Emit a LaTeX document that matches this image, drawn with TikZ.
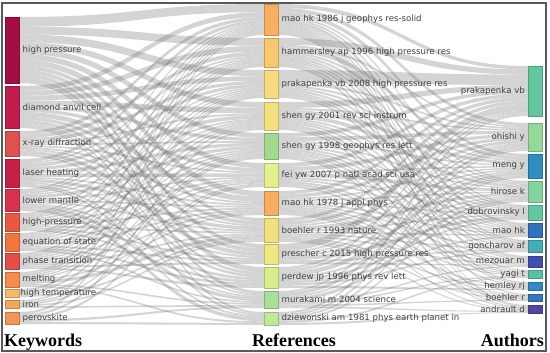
\documentclass[tikz,border=0pt]{standalone}
\usepackage{fontspec}
\setmainfont{Liberation Serif}
\newfontfamily\lblfont{DejaVu Sans}
\usetikzlibrary{positioning,calc,backgrounds}

% keyword colours
\definecolor{kwA}{HTML}{A50D45}
\definecolor{kwB}{HTML}{C01C4C}
\definecolor{kwC}{HTML}{E0504C}
\definecolor{kwD}{HTML}{C62048}
\definecolor{kwE}{HTML}{D93050}
\definecolor{kwF}{HTML}{EA5840}
\definecolor{kwG}{HTML}{F2763E}
\definecolor{kwH}{HTML}{E34E46}
\definecolor{kwI}{HTML}{F48A4C}
\definecolor{kwJ}{HTML}{F8B968}
\definecolor{kwK}{HTML}{F7A657}
\definecolor{kwL}{HTML}{F59553}
% reference colours
\definecolor{rfA}{HTML}{F8B060}
\definecolor{rfB}{HTML}{F9C86E}
\definecolor{rfC}{HTML}{F9DA7E}
\definecolor{rfD}{HTML}{F6E07E}
\definecolor{rfE}{HTML}{A4D88E}
\definecolor{rfF}{HTML}{E2F08E}
\definecolor{rfG}{HTML}{F8AE5E}
\definecolor{rfH}{HTML}{F2E07E}
\definecolor{rfI}{HTML}{F2E67E}
\definecolor{rfJ}{HTML}{D8EE8E}
\definecolor{rfK}{HTML}{A8E09A}
\definecolor{rfL}{HTML}{C2E895}
% author colours
\definecolor{auA}{HTML}{62C6A0}
\definecolor{auB}{HTML}{94D89A}
\definecolor{auC}{HTML}{2F8EC0}
\definecolor{auD}{HTML}{84D4A0}
\definecolor{auE}{HTML}{62C8A0}
\definecolor{auF}{HTML}{3172BE}
\definecolor{auG}{HTML}{42AEB6}
\definecolor{auH}{HTML}{4150AE}
\definecolor{auI}{HTML}{56C2A4}
\definecolor{auJ}{HTML}{3488C6}
\definecolor{auK}{HTML}{3574C0}
\definecolor{auL}{HTML}{5146A2}

\tikzset{
  tsbar/.style={fill=#1, draw=#1!80!black, line width=0.3pt, minimum width=14.5pt,
    inner sep=0pt, outer sep=0pt, anchor=north west},
  tslbl/.style={font=\lblfont\fontsize{8.6}{9}\selectfont, text=black!75, inner sep=0pt},
  tshead/.style={font=\bfseries\fontsize{18}{20}\selectfont, inner sep=0pt},
  tsband/.style={fill=black!60, fill opacity=0.28},
  tsframe/.style={draw=black!65, line width=1.2pt}
}

\newcommand\setg[2]{\expandafter\xdef\csname#1\endcsname{#2}}
\newcommand\val[1]{\csname#1\endcsname}

% bands between two columns: src prefix, dst prefix, src heights, dst heights, weights, half gap
\newcommand\tsflows[6]{%
  \foreach \h [count=\i] in {#3} {\setg{hs\i}{\h}\setg{rs\i}{0}\setg{os\i}{0}}
  \foreach \h [count=\j] in {#4} {\setg{hd\j}{\h}\setg{cs\j}{0}\setg{od\j}{0}}
  \foreach \row [count=\i] in {#5} {
    \foreach \w [count=\j] in \row {
      \pgfmathsetmacro\ftmp{\val{rs\i}+\w}\setg{rs\i}{\ftmp}
      \pgfmathsetmacro\ftmp{\val{cs\j}+\w}\setg{cs\j}{\ftmp}
    }
  }
  \foreach \row [count=\i] in {#5} {
    \foreach \w [count=\j] in \row {
      \ifnum\w>0
        \pgfmathsetmacro\fta{\w*\val{hs\i}/\val{rs\i}}
        \pgfmathsetmacro\ftb{\w*\val{hd\j}/\val{cs\j}}
        \pgfmathsetmacro\fsa{\val{os\i}}
        \pgfmathsetmacro\fsb{\val{od\j}}
        \fill[tsband] ($(#1\i.north east)+(0,\fsa)$)
          .. controls +(#6,0) and +(-#6,0) .. ($(#2\j.north west)+(0,\fsb)$)
          -- ($(#2\j.north west)+(0,\fsb+\ftb)$)
          .. controls +(-#6,0) and +(#6,0) .. ($(#1\i.north east)+(0,\fsa+\fta)$) -- cycle;
        \pgfmathsetmacro\ftmp{\fsa+\fta}\setg{os\i}{\ftmp}
        \pgfmathsetmacro\ftmp{\fsb+\ftb}\setg{od\j}{\ftmp}
      \fi
    }
  }
}

\begin{document}
\begin{tikzpicture}[x=1pt, y=-1pt]
  \useasboundingbox (0,0) rectangle (550,353);

  % keywords
  \node[tsbar=kwA, minimum height=66pt] (k1) at (5,17) {};
  \node[tsbar=kwB, minimum height=42pt] (k2) at (5,86) {};
  \node[tsbar=kwC, minimum height=25pt] (k3) at (5,131) {};
  \node[tsbar=kwD, minimum height=28pt] (k4) at (5,159) {};
  \node[tsbar=kwE, minimum height=22pt] (k5) at (5,189) {};
  \node[tsbar=kwF, minimum height=18pt] (k6) at (5,213) {};
  \node[tsbar=kwG, minimum height=18pt] (k7) at (5,233) {};
  \node[tsbar=kwH, minimum height=16pt] (k8) at (5,253) {};
  \node[tsbar=kwI, minimum height=15pt] (k9) at (5,272) {};
  \node[tsbar=kwJ, minimum height=8pt] (k10) at (5,289) {};
  \node[tsbar=kwK, minimum height=8pt] (k11) at (5,300) {};
  \node[tsbar=kwL, minimum height=12pt] (k12) at (5,312) {};

  % references
  \node[tsbar=rfA, minimum height=31pt] (r1) at (264,4) {};
  \node[tsbar=rfB, minimum height=29pt] (r2) at (264,38) {};
  \node[tsbar=rfC, minimum height=28pt] (r3) at (264,70) {};
  \node[tsbar=rfD, minimum height=28pt] (r4) at (264,102) {};
  \node[tsbar=rfE, minimum height=26pt] (r5) at (264,133) {};
  \node[tsbar=rfF, minimum height=24pt] (r6) at (264,163) {};
  \node[tsbar=rfG, minimum height=24pt] (r7) at (264,191) {};
  \node[tsbar=rfH, minimum height=24pt] (r8) at (264,218) {};
  \node[tsbar=rfI, minimum height=20pt] (r9) at (264,244) {};
  \node[tsbar=rfJ, minimum height=21pt] (r10) at (264,267) {};
  \node[tsbar=rfK, minimum height=17pt] (r11) at (264,291) {};
  \node[tsbar=rfL, minimum height=13pt] (r12) at (264,312) {};

  % authors
  \node[tsbar=auA, minimum height=50pt] (a1) at (528,66) {};
  \node[tsbar=auB, minimum height=28pt] (a2) at (528,123) {};
  \node[tsbar=auC, minimum height=24pt] (a3) at (528,154) {};
  \node[tsbar=auD, minimum height=21pt] (a4) at (528,181) {};
  \node[tsbar=auE, minimum height=15pt] (a5) at (528,205) {};
  \node[tsbar=auF, minimum height=14pt] (a6) at (528,223) {};
  \node[tsbar=auG, minimum height=12pt] (a7) at (528,240) {};
  \node[tsbar=auH, minimum height=11pt] (a8) at (528,256) {};
  \node[tsbar=auI, minimum height=8pt] (a9) at (528,270) {};
  \node[tsbar=auJ, minimum height=8pt] (a10) at (528,282) {};
  \node[tsbar=auK, minimum height=7pt] (a11) at (528,294) {};
  \node[tsbar=auL, minimum height=8pt] (a12) at (528,305) {};

  % flows
  \begin{scope}[on background layer]
    \tsflows{k}{r}{66,42,25,28,22,18,18,16,15,8,8,12}{31,29,28,28,26,24,24,24,20,21,17,13}{
      {5,4,4,3,3,3,3,2,2,2,2,1},
      {3,3,3,3,2,2,3,2,2,1,1,1},
      {2,2,2,1,1,1,1,1,2,1,0,0},
      {2,1,2,2,2,2,1,2,1,0,1,1},
      {1,1,1,1,2,1,1,1,0,1,2,2},
      {1,1,1,1,1,1,1,1,1,1,0,0},
      {1,1,1,1,1,1,1,0,1,1,1,0},
      {1,1,1,1,1,1,1,1,1,1,0,0},
      {1,1,1,1,1,0,1,2,0,0,1,1},
      {1,0,1,0,1,0,0,1,0,0,0,0},
      {0,0,1,0,1,1,0,1,0,0,1,0},
      {1,0,0,1,0,1,0,0,0,0,1,1}}{122}
    \tsflows{r}{a}{31,29,28,28,26,24,24,24,20,21,17,13}{50,28,24,21,15,14,12,11,8,8,7,8}{
      {2,2,2,1,1,2,1,1,1,1,1,1},
      {3,1,2,1,1,1,1,1,0,1,0,1},
      {6,1,1,1,1,1,1,1,0,0,0,0},
      {3,1,2,2,1,1,1,0,1,1,0,1},
      {2,2,1,1,1,1,1,1,1,0,1,1},
      {2,2,1,2,1,1,0,1,1,0,1,0},
      {2,2,1,1,1,1,1,1,1,1,1,1},
      {2,2,1,2,1,1,1,1,0,1,1,1},
      {4,1,1,1,2,0,1,1,0,0,0,0},
      {1,1,2,1,1,1,1,0,0,1,0,0},
      {1,2,1,2,0,0,0,1,1,0,1,1},
      {1,1,1,1,0,0,0,0,1,0,0,1}}{125}
  \end{scope}

  % keyword labels
  \node[tslbl, right=3pt of k1] (k1t) {high pressure};
  \node[tslbl, right=3pt of k2] (k2t) {diamond anvil cell};
  \node[tslbl, right=3pt of k3] (k3t) {x-ray diffraction};
  \node[tslbl, right=3pt of k4] (k4t) {laser heating};
  \node[tslbl, right=3pt of k5] (k5t) {lower mantle};
  \node[tslbl, right=3pt of k6] (k6t) {high-pressure};
  \node[tslbl, right=3pt of k7] (k7t) {equation of state};
  \node[tslbl, right=3pt of k8] (k8t) {phase transition};
  \node[tslbl, right=3pt of k9] (k9t) {melting};
  \node[tslbl, right=1pt of k10] (k10t) {high temperature};
  \node[tslbl, right=3pt of k11] (k11t) {iron};
  \node[tslbl, right=3pt of k12] (k12t) {perovskite};

  % reference labels
  \node[tslbl, right=3pt of r1] (r1t) {mao hk 1986 j geophys res-solid};
  \node[tslbl, right=3pt of r2] (r2t) {hammersley ap 1996 high pressure res};
  \node[tslbl, right=3pt of r3] (r3t) {prakapenka vb 2008 high pressure res};
  \node[tslbl, right=3pt of r4] (r4t) {shen gy 2001 rev sci instrum};
  \node[tslbl, right=3pt of r5] (r5t) {shen gy 1998 geophys res lett};
  \node[tslbl, right=3pt of r6] (r6t) {fei yw 2007 p natl acad sci usa};
  \node[tslbl, right=3pt of r7] (r7t) {mao hk 1978 j appl phys};
  \node[tslbl, right=3pt of r8] (r8t) {boehler r 1993 nature};
  \node[tslbl, right=3pt of r9] (r9t) {prescher c 2015 high pressure res};
  \node[tslbl, right=3pt of r10] (r10t) {perdew jp 1996 phys rev lett};
  \node[tslbl, right=3pt of r11] (r11t) {murakami m 2004 science};
  \node[tslbl, right=3pt of r12] (r12t) {dziewonski am 1981 phys earth planet in};

  % author labels
  \node[tslbl, left=3pt of a1] (a1t) {prakapenka vb};
  \node[tslbl, left=3pt of a2] (a2t) {ohishi y};
  \node[tslbl, left=3pt of a3] (a3t) {meng y};
  \node[tslbl, left=3pt of a4] (a4t) {hirose k};
  \node[tslbl, left=3pt of a5] (a5t) {dubrovinsky l};
  \node[tslbl, left=3pt of a6] (a6t) {mao hk};
  \node[tslbl, left=3pt of a7] (a7t) {goncharov af};
  \node[tslbl, left=3pt of a8] (a8t) {mezouar m};
  \node[tslbl, left=3pt of a9] (a9t) {yagi t};
  \node[tslbl, left=3pt of a10] (a10t) {hemley rj};
  \node[tslbl, left=3pt of a11] (a11t) {boehler r};
  \node[tslbl, left=3pt of a12] (a12t) {andrault d};

  % column titles
  \node[tshead, anchor=base west] (kwhead) at (4,346) {Keywords};
  \node[tshead, anchor=base west] (rfhead) at (252,346) {References};
  \node[tshead, anchor=base east] (auhead) at (544,346) {Authors};

  \draw[tsframe] (2,3) rectangle (546,351);
\end{tikzpicture}
\end{document}
